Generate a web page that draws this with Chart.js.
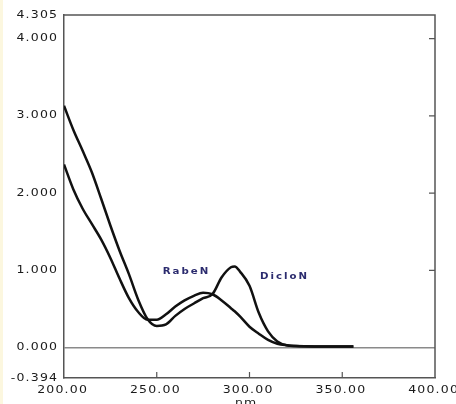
<!DOCTYPE html>
<html>
<head>
<meta charset="utf-8">
<script src="https://cdn.jsdelivr.net/npm/chart.js@4"></script>
<style>
  html, body { margin: 0; padding: 0; background: #ffffff; }
  #chart { display: block; }
</style>
</head>
<body>
<canvas id="chart" width="456" height="404"></canvas>
<script>
// wavelengths (nm) and absorbance
const wavelengths = [200, 205, 210, 215, 220, 225, 230, 235, 240, 245, 250, 255, 260, 265, 270, 275, 280, 285, 290, 292, 295, 300, 305, 310, 315, 320, 325, 335, 345, 356];
const dicloN = [3.13, 2.82, 2.55, 2.27, 1.93, 1.58, 1.25, 0.95, 0.62, 0.37, 0.28, 0.30, 0.41, 0.50, 0.57, 0.64, 0.69, 0.91, 1.04, 1.05, 0.98, 0.80, 0.45, 0.21, 0.08, 0.03, 0.02, 0.015, 0.015, 0.015];
const rabeN = [2.37, 2.05, 1.80, 1.60, 1.40, 1.16, 0.89, 0.64, 0.46, 0.36, 0.36, 0.43, 0.53, 0.61, 0.67, 0.71, 0.69, 0.61, 0.51, 0.47, 0.40, 0.27, 0.18, 0.10, 0.05, 0.03, 0.02, 0.015, 0.015, 0.015];

const yTicks = [-0.394, 0, 1, 2, 3, 4, 4.305];
const xTicks = [200, 250, 300, 350, 400];
const rightTicks = [1, 2, 3, 4];
const bottomTicks = [250, 300, 350];

// curve labels placed at data coordinates
const curveLabels = [
  { text: 'RabeN', x: 265.5, y: 0.98 },
  { text: 'DicloN', x: 318.3, y: 0.92 }
];

const fontFamily = '"DejaVu Sans", Verdana, sans-serif';
const toPoints = (ys) => wavelengths.map((w, i) => ({ x: w, y: ys[i] }));

// the original uses a wide, loosely set font: stretch glyphs a bit and add a gap
function drawWide(ctx, text, x, y, gap, stretch, align) {
  const chars = [...text];
  const widths = chars.map(ch => ctx.measureText(ch).width * stretch);
  const total = widths.reduce((s, w) => s + w, 0) + gap * (chars.length - 1);
  let cx = align === 'right' ? x - total : align === 'center' ? x - total / 2 : x;
  ctx.textAlign = 'left';
  chars.forEach((ch, i) => {
    ctx.save();
    ctx.translate(cx, y);
    ctx.scale(stretch, 1);
    ctx.fillText(ch, 0, 0);
    ctx.restore();
    cx += widths[i] + gap;
  });
}

const frame = {
  id: 'frame',
  beforeDraw(chart) {
    const ctx = chart.ctx;
    ctx.save();
    ctx.fillStyle = '#fcf7df';
    ctx.fillRect(0, 0, 3, chart.height);
    ctx.restore();
  },
  afterDraw(chart) {
    const ctx = chart.ctx;
    const a = chart.chartArea;
    const xs = chart.scales.x, ys = chart.scales.y;
    ctx.save();
    ctx.strokeStyle = '#555';
    ctx.lineWidth = 1.5;
    ctx.beginPath();
    ctx.moveTo(a.left, a.top);
    ctx.lineTo(a.right, a.top);
    ctx.lineTo(a.right, a.bottom);
    ctx.stroke();

    // inward ticks on the right and bottom edges
    ctx.lineWidth = 1.2;
    ctx.beginPath();
    rightTicks.forEach(v => {
      const py = ys.getPixelForValue(v);
      ctx.moveTo(a.right - 6, py);
      ctx.lineTo(a.right, py);
    });
    bottomTicks.forEach(v => {
      const px = xs.getPixelForValue(v);
      ctx.moveTo(px, a.bottom - 6);
      ctx.lineTo(px, a.bottom);
    });
    ctx.stroke();

    // tick labels
    ctx.fillStyle = '#1a1a1a';
    ctx.font = '10px ' + fontFamily;
    ctx.textBaseline = 'middle';
    yTicks.forEach(v => {
      drawWide(ctx, v.toFixed(3), a.left - 7, ys.getPixelForValue(v), 1.2, 1.25, 'right');
    });
    xTicks.forEach(v => {
      drawWide(ctx, v.toFixed(2), xs.getPixelForValue(v) - 2, a.bottom + 12, 1.2, 1.25, 'center');
    });

    // axis title, partly cut off at the bottom like the original
    ctx.textBaseline = 'alphabetic';
    drawWide(ctx, 'nm.', 248, 406, 1, 1.25, 'center');

    // curve names
    ctx.fillStyle = '#2b2b6e';
    ctx.font = 'bold 8.5px ' + fontFamily;
    ctx.textBaseline = 'middle';
    curveLabels.forEach(l => {
      drawWide(ctx, l.text, xs.getPixelForValue(l.x), ys.getPixelForValue(l.y), 2, 1.2, 'center');
    });
    ctx.restore();
  }
};

const ctx = document.getElementById('chart').getContext('2d');
new Chart(ctx, {
  type: 'line',
  data: {
    datasets: [
      { label: 'DicloN', data: toPoints(dicloN), borderColor: '#111', borderWidth: 2.5, pointRadius: 0, cubicInterpolationMode: 'monotone', fill: false },
      { label: 'RabeN', data: toPoints(rabeN), borderColor: '#111', borderWidth: 2.5, pointRadius: 0, cubicInterpolationMode: 'monotone', fill: false }
    ]
  },
  options: {
    responsive: false,
    animation: false,
    events: [],
    layout: { padding: { top: 15, right: 21, left: 0, bottom: 0 } },
    plugins: { legend: { display: false }, tooltip: { enabled: false } },
    scales: {
      x: {
        type: 'linear',
        min: 200,
        max: 400,
        afterBuildTicks: (s) => { s.ticks = xTicks.map(v => ({ value: v })); },
        afterFit: (s) => { s.height = 26; s.paddingLeft = 0; s.paddingRight = 0; },
        ticks: { display: false },
        grid: { display: false, drawTicks: false },
        border: { display: true, color: '#555', width: 1.5 }
      },
      y: {
        type: 'linear',
        min: -0.394,
        max: 4.305,
        afterBuildTicks: (s) => { s.ticks = yTicks.map(v => ({ value: v })); },
        afterFit: (s) => { s.width = 64; s.paddingTop = 0; s.paddingBottom = 0; },
        ticks: { display: false },
        grid: {
          drawTicks: false,
          lineWidth: 1.5,
          color: (c) => (c.tick && c.tick.value === 0 ? '#8a8a8a' : 'rgba(0,0,0,0)')
        },
        border: { display: true, color: '#555', width: 1.5 }
      }
    }
  },
  plugins: [frame]
});
</script>
</body>
</html>
